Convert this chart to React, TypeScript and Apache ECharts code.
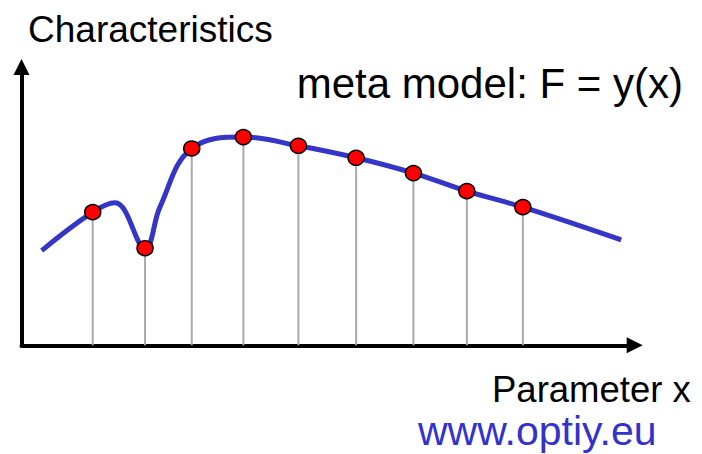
import React, { useEffect, useRef } from "react";
import * as echarts from "echarts";

// Sample points (x, F), in plot units
const sampleX = [71.2, 123.5, 170.2, 221.8, 276.8, 334.5, 391.8, 445.2, 501.2];
const sampleY = [133, 97, 196.6, 208, 199.3, 187.3, 172, 154, 138];

// Meta-model curve support points
const curveX = [20.2, 71.2, 93.5, 123.5, 138.5, 170.2, 221.8, 276.8, 334.5, 391.8, 445.2, 501.2, 599.5];
const curveY = [94.6, 133, 142.3, 97, 138.3, 196.6, 208, 199.3, 187.3, 172, 154, 138, 105.3];

const yAxisTitle = "Characteristics";
const xAxisTitle = "Parameter x";
const modelLabel = "meta model: F = y(x)";
const siteLabel = "www.optiy.eu";

const FONT = "'Liberation Sans', Arial, Helvetica, sans-serif";

export default function App() {
  const ref = useRef<HTMLDivElement>(null);
  useEffect(() => {
    if (!ref.current) return;
    const chart = echarts.init(ref.current, undefined, { renderer: "svg" });
    const axisCommon = {
      type: "value" as const,
      min: 0,
      axisLine: {
        show: true,
        symbol: ["none", "triangle"],
        symbolSize: [16, 16],
        lineStyle: { color: "#000", width: 4 },
      },
      axisTick: { show: false },
      axisLabel: { show: false },
      splitLine: { show: false },
    };
    chart.setOption({
      animation: false,
      backgroundColor: "#ffffff",
      grid: { left: 21.5, right: 67.3, top: 67, bottom: 108.7 },
      xAxis: { ...axisCommon, max: 613 },
      yAxis: { ...axisCommon, max: 278 },
      series: [
        {
          type: "bar",
          data: sampleX.map((x, i) => [x, sampleY[i]]),
          barWidth: 2,
          itemStyle: { color: "#aaaaaa" },
          z: 1,
        },
        {
          type: "line",
          data: curveX.map((x, i) => [x, curveY[i]]),
          smooth: 0.4,
          showSymbol: false,
          lineStyle: { color: "#3535c8", width: 5 },
          z: 2,
        },
        {
          type: "scatter",
          data: sampleX.map((x, i) => [x, sampleY[i]]),
          symbol: "circle",
          symbolSize: [16, 15],
          itemStyle: { color: "#ff0000", borderColor: "#000", borderWidth: 1.5, opacity: 1 },
          z: 3,
        },
      ],
      graphic: [
        {
          type: "text",
          left: 28,
          top: 29 - 18.5,
          style: { text: yAxisTitle, fontSize: 37, fontFamily: FONT, fill: "#000" },
        },
        {
          type: "text",
          left: 296.7,
          top: 83.3 - 21,
          style: { text: modelLabel, fontSize: 42, fontFamily: FONT, fill: "#000" },
        },
        {
          type: "text",
          left: 492,
          top: 389 - 18.3,
          style: { text: xAxisTitle, fontSize: 36.5, fontFamily: FONT, fill: "#000" },
        },
        {
          type: "text",
          left: 418,
          top: 430.6 - 20.5,
          style: { text: siteLabel, fontSize: 41, fontFamily: FONT, fill: "#3333cc" },
        },
      ],
    });
    return () => chart.dispose();
  }, []);
  return (
    <div
      ref={ref}
      style={{ position: "fixed", left: 0, top: 0, width: 702, height: 454, background: "#fff" }}
    />
  );
}
